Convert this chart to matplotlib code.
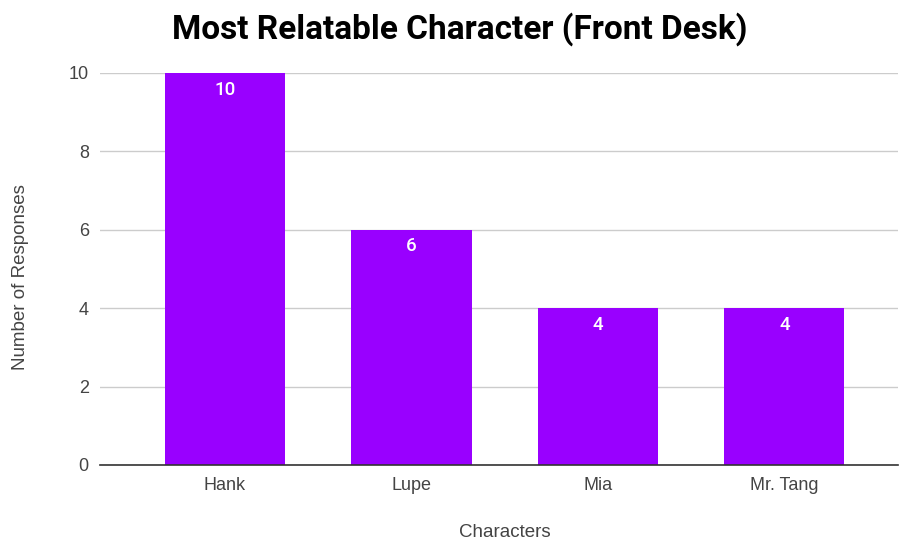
import matplotlib
matplotlib.use("Agg")
import matplotlib.pyplot as plt

characters = ["Hank", "Lupe", "Mia", "Mr. Tang"]
responses = [10, 6, 4, 4]
yticks = [0, 2, 4, 6, 8, 10]

plt.rcParams["font.family"] = ["Liberation Sans", "DejaVu Sans"]

fig = plt.figure(figsize=(9, 5.39), dpi=100)
ax = fig.add_axes([0.111, 0.1373, 0.887, 0.7273])

x = range(len(characters))
bars = ax.bar(x, responses, width=0.644, color="#9900ff", zorder=3)

for b, v in zip(bars, responses):
    ax.annotate(str(v), (b.get_x() + b.get_width() / 2, v), xytext=(0, -12),
                textcoords="offset points", ha="center", va="center",
                color="white", fontsize=13.5, family="Roboto", fontweight="medium", zorder=4)

ax.set_xlim(-0.671, 3.61)
ax.set_ylim(0, 10)
ax.set_yticks(yticks)
ax.set_xticks(list(x))
ax.set_xticklabels(characters)
ax.grid(axis="y", color="#cccccc", linewidth=1, zorder=0)
for s in ["top", "right", "left"]:
    ax.spines[s].set_visible(False)
ax.spines["bottom"].set_color("#333333")
ax.spines["bottom"].set_linewidth(1.2)
ax.spines["bottom"].set_zorder(5)
ax.tick_params(axis="both", length=0, labelsize=13, labelcolor="#444444")
ax.tick_params(axis="y", pad=8)
ax.tick_params(axis="x", pad=9)

ax.set_xlabel("Characters", fontsize=13.5, color="#444444")
ax.xaxis.set_label_coords(0.507, -0.15)
ax.set_ylabel("Number of Responses", fontsize=13.5, color="#444444")
ax.yaxis.set_label_coords(-0.089, 0.48)
fig.suptitle("Most Relatable Character (Front Desk)", x=0.511, y=0.978,
             fontsize=24, fontweight="bold", family="Roboto", color="black")

fig.savefig("out.png", dpi=100)
